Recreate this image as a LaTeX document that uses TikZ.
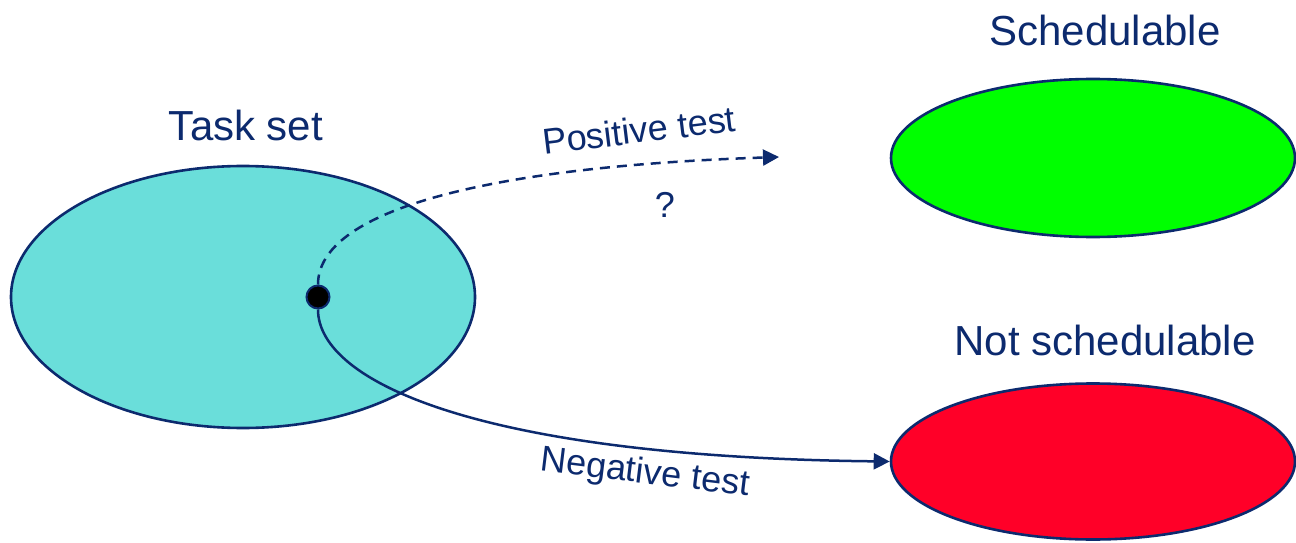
\documentclass[tikz,border=0pt]{standalone}
\usepackage{fontspec}
\setmainfont{Liberation Sans}
\usetikzlibrary{shapes.geometric,arrows.meta}
\definecolor{navy}{RGB}{12,42,110}
\definecolor{teal}{RGB}{106,222,218}
\definecolor{brightgreen}{RGB}{0,255,0}
\definecolor{brightred}{RGB}{255,0,40}
\tikzset{
  setshape/.style={ellipse, draw=navy, line width=2.6pt, inner sep=0pt},
  biglabel/.style={text=navy, font=\fontsize{42}{46}\selectfont, inner sep=0pt},
  testlabel/.style={text=navy, font=\fontsize{36}{40}\selectfont, inner sep=0pt},
  conn/.style={draw=navy, line width=2.5pt, -{Triangle[length=16pt,width=16pt]}},
}
\begin{document}
\begin{tikzpicture}[x=1pt,y=1pt]
\useasboundingbox (0,0) rectangle (1296,542);
\node[setshape, fill=teal, minimum width=464pt, minimum height=262pt] (taskset) at (243,245) {};
\node[setshape, fill=brightgreen, minimum width=404pt, minimum height=158pt] (sched) at (1093,384) {};
\node[setshape, fill=brightred, minimum width=404pt, minimum height=156pt] (notsched) at (1093,80.5) {};
\node[biglabel] (tasksetlabel) at (246,417) {Task set};
\node[biglabel] (schedlabel) at (1105,512) {Schedulable};
\node[biglabel] (notschedlabel) at (1105,202) {Not schedulable};
\node[testlabel, rotate=7] (poslabel) at (639,412) {Positive test};
\node[testlabel] (qlabel) at (665,337) {?};
\node[testlabel, rotate=-7] (neglabel) at (645,68) {Negative test};
\node[circle, fill=black, draw=navy, line width=2pt, minimum size=23pt, inner sep=0pt] (dot) at (318,245) {};
\coordinate (posend) at (779,385);
\draw[conn, dash pattern=on 10pt off 7pt] (dot.north) .. controls (318,330) and (480,375) .. (posend);
\draw[conn] (dot.south) .. controls (318,160) and (480,85) .. (notsched.west);
\end{tikzpicture}
\end{document}
